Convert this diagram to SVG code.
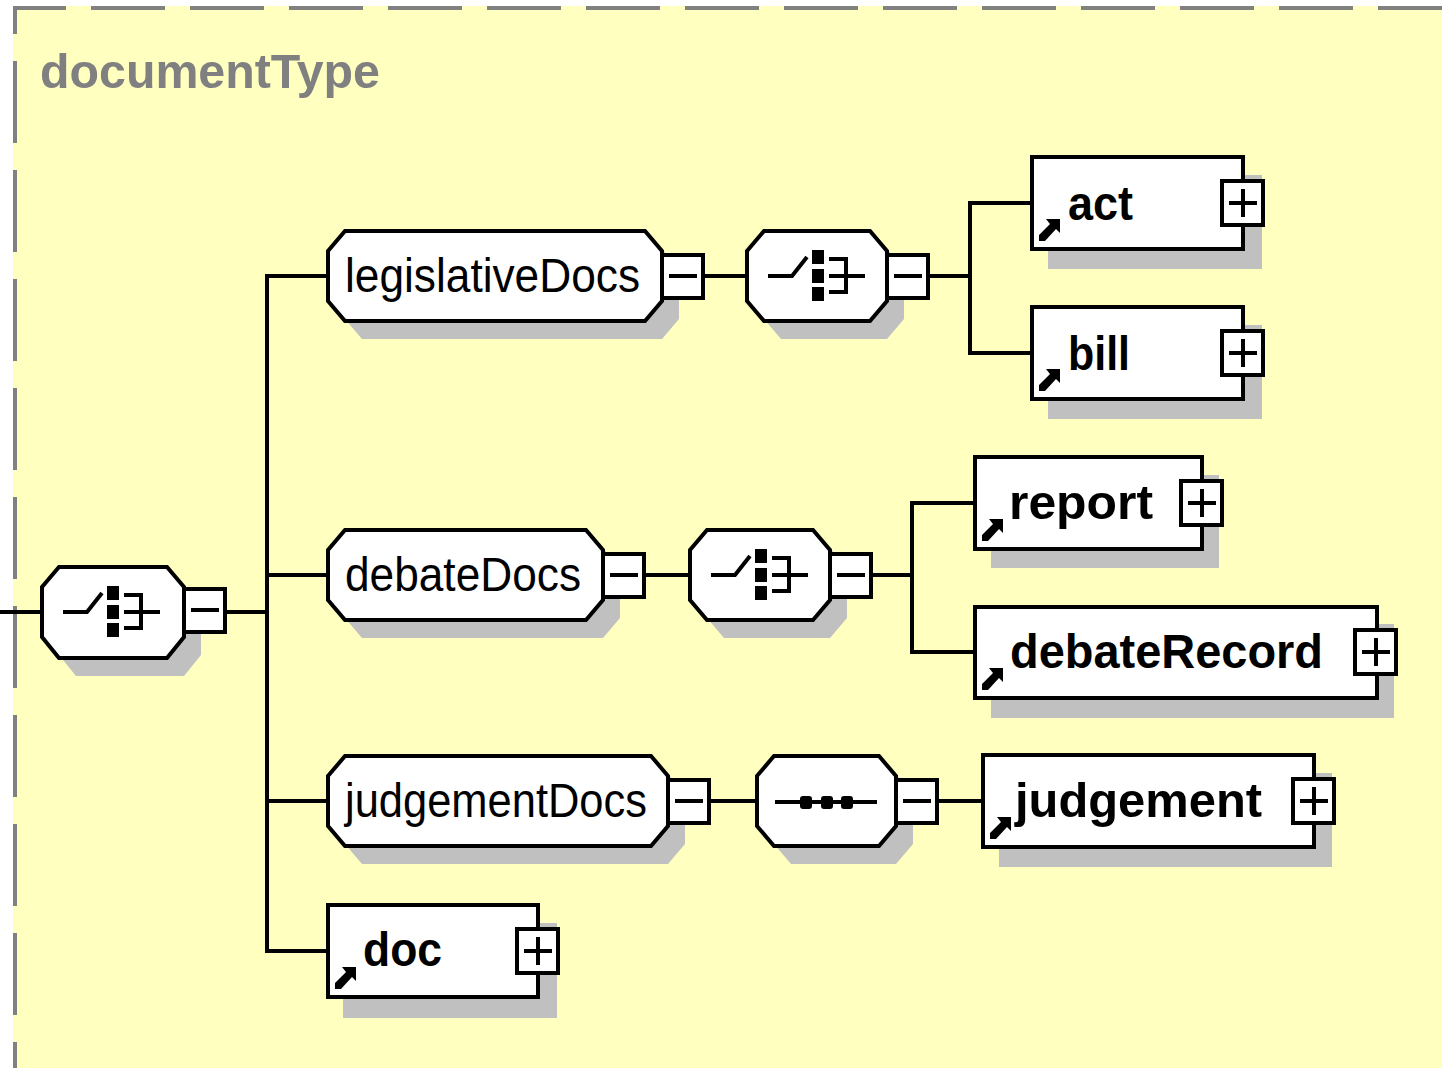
<svg xmlns="http://www.w3.org/2000/svg" xmlns:xlink="http://www.w3.org/1999/xlink" width="1442" height="1068" viewBox="0 0 1442 1068">
  <style>
    .frame { fill: none; stroke: #808080; stroke-width: 4; }
    .title { font-family: "Liberation Sans", Arial, sans-serif; font-weight: bold; font-size: 48px; fill: #808080; }
    .shadow { fill: #C0C0C0; stroke: none; }
    .body { fill: #FFFFFF; stroke: #000000; stroke-width: 4; }
    .wire { fill: none; stroke: #000000; stroke-width: 4; }
    .ink { fill: #000000; stroke: none; }
    .lbl { font-family: "Liberation Sans", Arial, sans-serif; font-size: 48px; fill: #000000; }
    .lbl-b { font-family: "Liberation Sans", Arial, sans-serif; font-size: 48px; font-weight: bold; fill: #000000; }
  </style>
  <defs>
    <!-- collapse button (minus) : origin at left edge, vertical centre -->
    <g id="btn-minus">
      <rect class="body" x="0" y="-21" width="41" height="43"/>
      <path class="wire" d="M7 0 H35"/>
    </g>
    <!-- expand button (plus) -->
    <g id="btn-plus">
      <rect class="body" x="0" y="-22" width="41" height="44"/>
      <path class="wire" d="M7 0 H35 M21 -14 V14"/>
    </g>
    <!-- choice compositor symbol : origin at octagon left edge, centre line -->
    <g id="ico-choice">
      <path class="wire" d="M21 0 H45 L60 -19"/>
      <rect class="ink" x="65" y="-26" width="12" height="14"/>
      <rect class="ink" x="65" y="-7" width="12" height="14"/>
      <rect class="ink" x="65" y="11" width="12" height="14"/>
      <path class="wire" d="M82 -17 H99 V16 H82 M82 0 H118"/>
    </g>
    <!-- sequence compositor symbol -->
    <g id="ico-seq">
      <path class="wire" d="M18 0 H120"/>
      <rect class="ink" x="43" y="-6" width="12" height="13" rx="3"/>
      <rect class="ink" x="64" y="-6" width="12" height="13" rx="3"/>
      <rect class="ink" x="84" y="-6" width="12" height="13" rx="3"/>
    </g>
    <!-- reference arrow : origin at element box bottom-left -->
    <polygon id="ico-ref" class="ink" points="14,-30 28,-30 28,-16 24,-20 13,-8 7,-8 7,-14 18,-25"/>
  </defs>

  <!-- type frame -->
  <rect x="13" y="6" width="1429" height="1062" fill="#FFFFC0"/>
  <path class="frame" d="M13 8 H1442" stroke-dasharray="74 25" stroke-dashoffset="21"/>
  <path class="frame" d="M15 6 V1068" stroke-dasharray="82 27" stroke-dashoffset="54"/>
  <text class="title" x="40" y="88" textLength="340" lengthAdjust="spacingAndGlyphs">documentType</text>

  <!-- connectors -->
  <g id="connectors">
    <path class="wire" d="M0 612 H42"/>
    <path class="wire" d="M226 612 H267"/>
    <path class="wire" d="M267 274 V953"/>
    <path class="wire" d="M267 276 H328 M267 575 H328 M267 801 H328 M267 951 H328"/>
    <path class="wire" d="M705 276 H747 M930 276 H970"/>
    <path class="wire" d="M970 201 V355 M970 203 H1032 M970 353 H1032"/>
    <path class="wire" d="M646 575 H690 M873 575 H912"/>
    <path class="wire" d="M912 501 V654 M912 503 H975 M912 652 H975"/>
    <path class="wire" d="M711 801 H757 M939 801 H983"/>
  </g>

  <!-- root choice -->
  <g id="root-choice">
    <polygon class="shadow" points="76,585 184,585 201,605 201,655 184,676 76,676 59,655 59,605"/>
    <polygon class="body" points="59,567 167,567 184,587 184,637 167,658 59,658 42,637 42,587"/>
    <use xlink:href="#ico-choice" x="42" y="612"/>
    <use xlink:href="#btn-minus" x="184" y="610"/>
  </g>

  <!-- legislativeDocs -->
  <g id="legislativeDocs">
    <polygon class="shadow" points="362,249 662,249 679,269 679,319 662,339 362,339 345,319 345,269"/>
    <polygon class="body" points="345,231 645,231 662,251 662,301 645,321 345,321 328,301 328,251"/>
    <text class="lbl" x="345" y="292" textLength="295" lengthAdjust="spacingAndGlyphs">legislativeDocs</text>
    <use xlink:href="#btn-minus" x="662" y="276"/>
  </g>
  <g id="legislativeDocs-choice">
    <polygon class="shadow" points="781,249 887,249 904,269 904,319 887,339 781,339 764,319 764,269"/>
    <polygon class="body" points="764,231 870,231 887,251 887,301 870,321 764,321 747,301 747,251"/>
    <use xlink:href="#ico-choice" x="747" y="276"/>
    <use xlink:href="#btn-minus" x="887" y="276"/>
  </g>
  <g id="act">
    <rect class="shadow" x="1048" y="175" width="214" height="94"/>
    <rect class="body" x="1032" y="157" width="211" height="92"/>
    <use xlink:href="#ico-ref" x="1032" y="249"/>
    <text class="lbl-b" x="1068" y="220" textLength="65" lengthAdjust="spacingAndGlyphs">act</text>
    <use xlink:href="#btn-plus" x="1222" y="203"/>
  </g>
  <g id="bill">
    <rect class="shadow" x="1048" y="325" width="214" height="94"/>
    <rect class="body" x="1032" y="307" width="211" height="92"/>
    <use xlink:href="#ico-ref" x="1032" y="399"/>
    <text class="lbl-b" x="1068" y="370" textLength="62" lengthAdjust="spacingAndGlyphs">bill</text>
    <use xlink:href="#btn-plus" x="1222" y="353"/>
  </g>

  <!-- debateDocs -->
  <g id="debateDocs">
    <polygon class="shadow" points="362,548 603,548 620,568 620,618 603,638 362,638 345,618 345,568"/>
    <polygon class="body" points="345,530 586,530 603,550 603,600 586,620 345,620 328,600 328,550"/>
    <text class="lbl" x="345" y="591" textLength="236" lengthAdjust="spacingAndGlyphs">debateDocs</text>
    <use xlink:href="#btn-minus" x="603" y="575"/>
  </g>
  <g id="debateDocs-choice">
    <polygon class="shadow" points="724,548 830,548 847,568 847,618 830,638 724,638 707,618 707,568"/>
    <polygon class="body" points="707,530 813,530 830,550 830,600 813,620 707,620 690,600 690,550"/>
    <use xlink:href="#ico-choice" x="690" y="575"/>
    <use xlink:href="#btn-minus" x="830" y="575"/>
  </g>
  <g id="report">
    <rect class="shadow" x="991" y="475" width="228" height="93"/>
    <rect class="body" x="975" y="457" width="227" height="92"/>
    <use xlink:href="#ico-ref" x="975" y="549"/>
    <text class="lbl-b" x="1009" y="519" textLength="144" lengthAdjust="spacingAndGlyphs">report</text>
    <use xlink:href="#btn-plus" x="1181" y="503"/>
  </g>
  <g id="debateRecord">
    <rect class="shadow" x="991" y="624" width="403" height="94"/>
    <rect class="body" x="975" y="607" width="402" height="91"/>
    <use xlink:href="#ico-ref" x="975" y="698"/>
    <text class="lbl-b" x="1010" y="668" textLength="313" lengthAdjust="spacingAndGlyphs">debateRecord</text>
    <use xlink:href="#btn-plus" x="1355" y="652"/>
  </g>

  <!-- judgementDocs -->
  <g id="judgementDocs">
    <polygon class="shadow" points="362,774 668,774 685,794 685,844 668,864 362,864 345,844 345,794"/>
    <polygon class="body" points="345,756 651,756 668,776 668,826 651,846 345,846 328,826 328,776"/>
    <text class="lbl" x="345" y="817" textLength="302" lengthAdjust="spacingAndGlyphs">judgementDocs</text>
    <use xlink:href="#btn-minus" x="668" y="801"/>
  </g>
  <g id="judgementDocs-sequence">
    <polygon class="shadow" points="791,774 896,774 913,794 913,844 896,864 791,864 774,844 774,794"/>
    <polygon class="body" points="774,756 879,756 896,776 896,826 879,846 774,846 757,826 757,776"/>
    <use xlink:href="#ico-seq" x="757" y="802"/>
    <use xlink:href="#btn-minus" x="896" y="801"/>
  </g>
  <g id="judgement">
    <rect class="shadow" x="999" y="773" width="333" height="94"/>
    <rect class="body" x="983" y="755" width="331" height="92"/>
    <use xlink:href="#ico-ref" x="983" y="847"/>
    <text class="lbl-b" x="1015" y="817" textLength="247" lengthAdjust="spacingAndGlyphs">judgement</text>
    <use xlink:href="#btn-plus" x="1293" y="801"/>
  </g>

  <!-- doc -->
  <g id="doc">
    <rect class="shadow" x="343" y="923" width="214" height="95"/>
    <rect class="body" x="328" y="905" width="210" height="92"/>
    <use xlink:href="#ico-ref" x="328" y="997"/>
    <text class="lbl-b" x="363" y="966" textLength="79" lengthAdjust="spacingAndGlyphs">doc</text>
    <use xlink:href="#btn-plus" x="517" y="951"/>
  </g>
</svg>
